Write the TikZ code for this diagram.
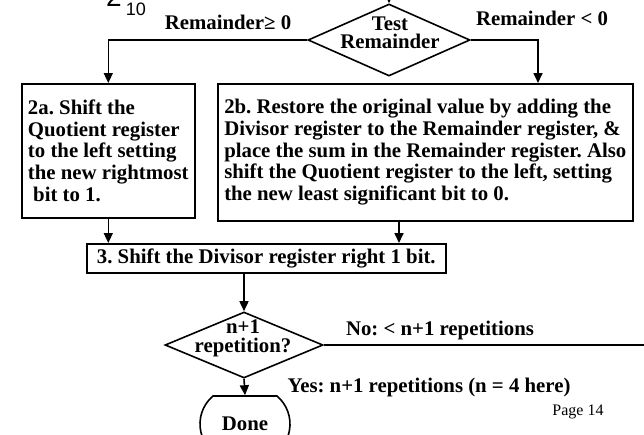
\documentclass[tikz,border=0pt]{standalone}
\usepackage{fontspec}
\setmainfont{Liberation Serif}
\newfontfamily\radixfont{Liberation Sans}
\usepackage{tikz}
\usetikzlibrary{shapes.geometric, shapes.misc, arrows.meta}
\frenchspacing

\begin{document}
\begin{tikzpicture}[x=1pt, y=-1pt,
  box/.style={draw, line width=1.6pt, inner xsep=2pt, inner ysep=0pt,
              align=left, font=\bfseries\fontsize{20.8}{21.7}\selectfont},
  dia/.style={draw, diamond, line width=1.6pt, inner sep=0pt},
  term/.style={draw, rounded rectangle, rounded rectangle arc length=100, line width=1.6pt,
               inner sep=0pt, font=\bfseries\fontsize{20.8}{21.7}\selectfont},
  txt/.style={inner sep=0pt, align=center, font=\bfseries\fontsize{20.8}{21.7}\selectfont},
  ln/.style={line width=1.6pt},
  >={Triangle[length=10pt, width=9pt]}]
\useasboundingbox (0,0) rectangle (644,434);

% radix left over from the slide above
\node[inner sep=0pt, anchor=base west, font=\radixfont\fontsize{28}{28}\selectfont] (radix) at (106,6)
  {2\hspace{4pt}\raisebox{-9pt}{\fontsize{18}{18}\selectfont 10}};

% decision: test remainder
\node[dia, minimum width=162, minimum height=72] (test) at (389,40) {};
\node[txt, font=\bfseries\fontsize{20.8}{18}\selectfont] (testtxt) at (390,32.5) {Test\\Remainder};
\coordinate (tin) at (389,-20);
\draw[ln, ->] (tin) -- (test.north);

% the two branches
\node[box, minimum width=173, minimum height=134, anchor=north west] (s2a) at (21,83)
  {2a. Shift the\\Quotient register\\to the left setting\\the new rightmost\\\hspace*{0.25em}bit to 1.};
\node[box, minimum width=415, minimum height=137, anchor=north west] (s2b) at (217,83)
  {2b. Restore the original value by adding the\\Divisor register to the Remainder register, \&\\place the sum in the Remainder register. Also\\shift the Quotient register to the left, setting\\the new least significant bit to 0.};
\coordinate (bin) at (538,83);
\draw[ln, ->] (test.west) -| (s2a.north);
\draw[ln, ->] (test.east) -| (bin);
\node[txt] (ge) at (228,22) {Remainder\char"2265\ 0};
\node[txt] (lt) at (542,18) {Remainder < 0};

% step 3
\node[box, minimum width=359, minimum height=29, anchor=north west, align=center] (s3) at (86,243)
  {3. Shift the Divisor register right 1 bit.};
\coordinate (bout) at (399,220);
\draw[ln, ->] (s2a.south) -- (s2a.south |- s3.north);
\draw[ln, ->] (bout) -- (bout |- s3.north);

% decision: repetitions
\node[dia, minimum width=158, minimum height=66] (rep) at (244,345) {};
\node[txt, font=\bfseries\fontsize{20.8}{19}\selectfont] (reptxt) at (243,338.5) {n+1\\repetition?};
\draw[ln, ->] (rep.north |- s3.south) -- (rep.north);
\coordinate (nout) at (650,345);
\draw[ln] (rep.east) -- (nout);
\node[txt] (no) at (440,330) {No: < n+1 repetitions};

% done
\node[term, minimum width=90, minimum height=56] (done) at (245,424) {\raisebox{-1pt}{Done}};
\draw[ln, ->] (rep.south) -- (done.north);
\node[txt] (yes) at (429,387) {Yes: n+1 repetitions (n = 4 here)};

\node[inner sep=0pt, font=\fontsize{16}{16}\selectfont] (page) at (578,412) {Page 14};
\end{tikzpicture}
\end{document}
